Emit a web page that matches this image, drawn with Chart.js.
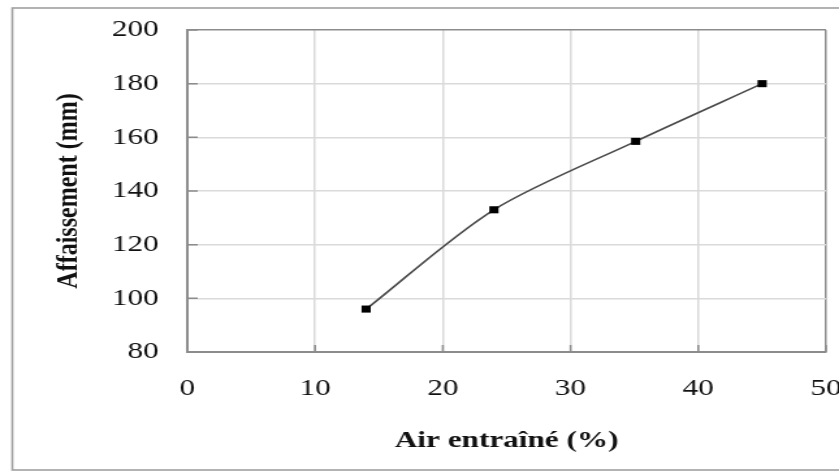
<!DOCTYPE html>
<html>
<head>
<meta charset="utf-8">
<script src="https://cdn.jsdelivr.net/npm/chart.js@4"></script>
<style>
  html, body { margin: 0; padding: 0; background: #fff; overflow: hidden; }
  /* chart is laid out narrow and stretched sideways, like the printed figure */
  #wrap { width: 645px; height: 472px; transform: scaleX(1.3008); transform-origin: 0 0; }
</style>
</head>
<body>
<div id="wrap"><canvas id="slumpChart" width="645" height="472"></canvas></div>
<script>
// air content (%) against slump (mm)
var airContent = [14, 24, 35.1, 45];
var slump = [96, 133, 158.5, 180];
var xTicks = [0, 10, 20, 30, 40, 50];
var yTicks = [80, 100, 120, 140, 160, 180, 200];

var serif = 'Liberation Serif, Times New Roman, serif';
var frameColor = '#8c8c8c';
var gridColor = '#dadada';

var points = airContent.map(function(x, i) { return { x: x, y: slump[i] }; });

// outer frame around the whole figure
var framePlugin = {
  id: 'frame',
  beforeDraw: function(chart) {
    var ctx = chart.ctx;
    ctx.save();
    ctx.fillStyle = '#fff';
    ctx.fillRect(0, 0, chart.width, chart.height);
    ctx.strokeStyle = '#a0a0a0';
    ctx.lineWidth = 1.6;
    ctx.strokeRect(9.5, 8, 700, 462);
    ctx.restore();
  }
};

// short tick marks pointing into the plot area
var innerTicks = {
  id: 'innerTicks',
  beforeDatasetsDraw: function(chart) {
    var ctx = chart.ctx, xs = chart.scales.x, ys = chart.scales.y;
    ctx.save();
    ctx.strokeStyle = frameColor;
    ctx.lineWidth = 1.5;
    ctx.beginPath();
    yTicks.forEach(function(v) {
      var py = ys.getPixelForValue(v);
      ctx.moveTo(xs.left, py);
      ctx.lineTo(xs.left + 8, py);
    });
    xTicks.forEach(function(v) {
      var px = xs.getPixelForValue(v);
      ctx.moveTo(px, ys.bottom);
      ctx.lineTo(px, ys.bottom - 7);
    });
    ctx.stroke();
    ctx.restore();
  }
};

new Chart(document.getElementById('slumpChart'), {
  type: 'line',
  data: {
    datasets: [{
      data: points,
      borderColor: '#4a4a4a',
      borderWidth: 1.6,
      tension: 0.3,
      pointStyle: 'rect',
      pointRadius: 5,
      pointBackgroundColor: '#000',
      pointBorderColor: '#000',
      pointBorderWidth: 0,
      fill: false
    }]
  },
  options: {
    responsive: false,
    animation: false,
    layout: { padding: { top: 30, right: 10, left: 0, bottom: 0 } },
    plugins: { legend: { display: false }, tooltip: { enabled: false } },
    scales: {
      x: {
        type: 'linear',
        min: xTicks[0],
        max: xTicks[xTicks.length - 1],
        ticks: { stepSize: 10, padding: 22, color: '#111', maxRotation: 0, font: { family: serif, size: 24 } },
        grid: {
          drawTicks: false,
          lineWidth: 1.5,
          color: function(c) { return c.tick && c.tick.value === 50 ? frameColor : gridColor; }
        },
        border: { color: frameColor, width: 2 },
        title: {
          display: true,
          text: 'Air entraîné (%)',
          color: '#111',
          font: { family: serif, size: 24, weight: 'bold' },
          padding: { top: 0, bottom: 17 }
        },
        afterFit: function(s) { s.height = 120; s.paddingLeft = 0; s.paddingRight = 0; }
      },
      y: {
        min: yTicks[0],
        max: yTicks[yTicks.length - 1],
        ticks: { stepSize: 20, padding: 22, color: '#111', font: { family: serif, size: 24 } },
        grid: {
          drawTicks: false,
          lineWidth: 1.5,
          color: function(c) { return c.tick && c.tick.value === 200 ? frameColor : gridColor; }
        },
        border: { color: frameColor, width: 2 },
        title: {
          display: true,
          text: 'Affaissement (mm)',
          color: '#111',
          font: { family: serif, size: 24, weight: 'bold' },
          padding: { top: 38, bottom: 0 }
        },
        afterFit: function(s) { s.width = 144; s.paddingTop = 0; s.paddingBottom = 0; }
      }
    }
  },
  plugins: [framePlugin, innerTicks]
});
</script>
</body>
</html>
